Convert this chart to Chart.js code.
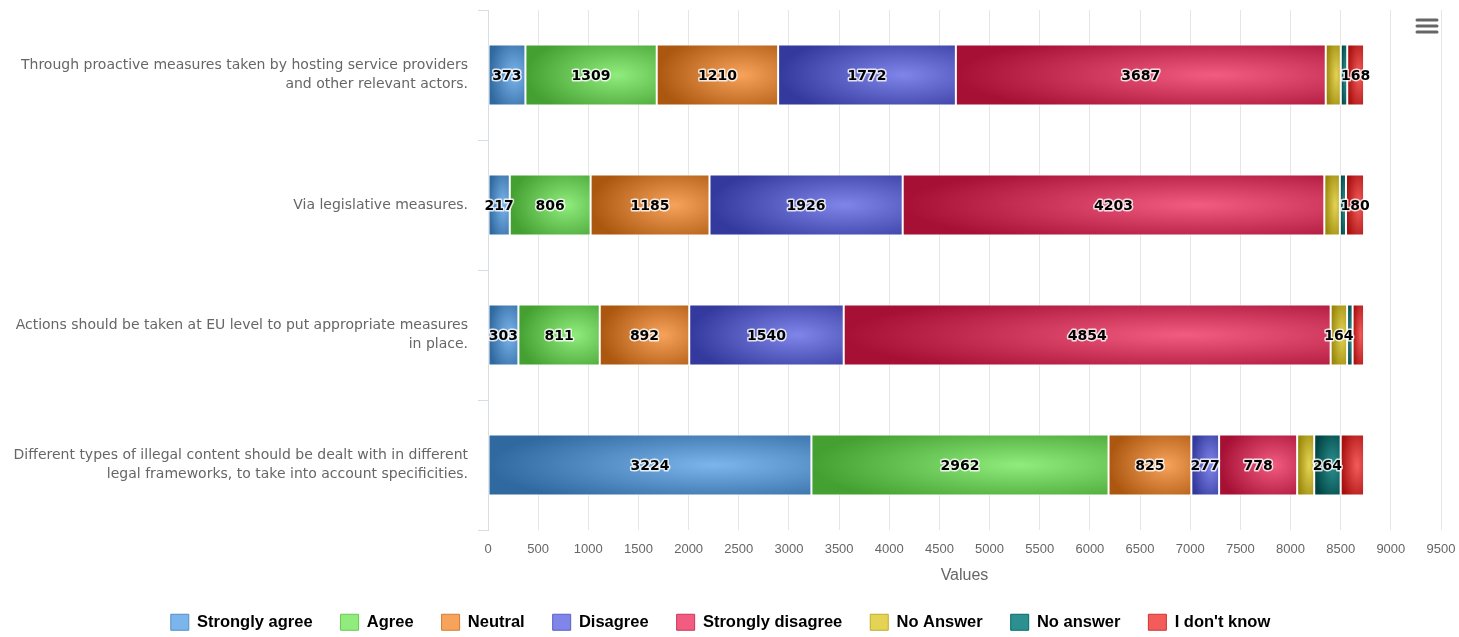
<!DOCTYPE html>
<html>
<head>
<meta charset="utf-8">
<title>Measures against illegal content</title>
<script src="https://cdn.jsdelivr.net/npm/chart.js@4.4.0/dist/chart.umd.min.js"></script>
<style>
  html, body { margin: 0; padding: 0; background: #fff; }
  #wrap { width: 1459px; height: 637px; position: relative; }
</style>
</head>
<body>
<div id="wrap"><canvas id="answersChart"></canvas></div>
<script>
// one bar per question
const categories = [
    ['Through proactive measures taken by hosting service providers', 'and other relevant actors.'],
    ['Via legislative measures.'],
    ['Actions should be taken at EU level to put appropriate measures', 'in place.'],
    ['Different types of illegal content should be dealt with in different', 'legal frameworks, to take into account specificities.']
];

const answerNames = ['Strongly agree', 'Agree', 'Neutral', 'Disagree', 'Strongly disagree', 'No Answer', 'No answer', "I don't know"];
const answerColors = ['#7cb5ec', '#90ed7d', '#f7a35c', '#8085e9', '#f15c80', '#e4d354', '#2b908f', '#f45b5b'];

// answers per question (same order as categories)
const stronglyAgree    = [373, 217, 303, 3224];
const agree            = [1309, 806, 811, 2962];
const neutral          = [1210, 1185, 892, 825];
const disagree         = [1772, 1926, 1540, 277];
const stronglyDisagree = [3687, 4203, 4854, 778];
const noAnswerUpper    = [150, 155, 164, 170];
const noAnswerLower    = [64, 61, 55, 264];
const dontKnow         = [168, 180, 114, 233];

const xTicks = [0, 500, 1000, 1500, 2000, 2500, 3000, 3500, 4000, 4500, 5000, 5500, 6000, 6500, 7000, 7500, 8000, 8500, 9000, 9500];

const seriesValues = [stronglyAgree, agree, neutral, disagree, stronglyDisagree, noAnswerUpper, noAnswerLower, dontKnow];

// darker edge colour for the bar shading
function darken(hex, amount) {
    const n = parseInt(hex.slice(1), 16);
    const d = parseInt(255 * amount);
    const r = Math.max(0, (n >> 16) - d);
    const g = Math.max(0, ((n >> 8) & 255) - d);
    const b = Math.max(0, (n & 255) - d);
    return 'rgb(' + r + ',' + g + ',' + b + ')';
}

// radial (elliptical) fill sized to one bar
function shadedFill(ctx, color, left, top, w, h) {
    const off = document.createElement('canvas');
    off.width = Math.ceil(w) + 2;
    off.height = Math.ceil(h) + 2;
    const o = off.getContext('2d');
    o.setTransform(w, 0, 0, h, 0, 0);
    const g = o.createRadialGradient(0.7, 0.5, 0, 0.7, 0.5, 0.7);
    g.addColorStop(0, color);
    g.addColorStop(1, darken(color, 0.3));
    o.fillStyle = g;
    o.fillRect(0, 0, 1.1, 1.1);
    const pat = ctx.createPattern(off, 'no-repeat');
    pat.setTransform(new DOMMatrix([1, 0, 0, 1, left, top]));
    return pat;
}

const barShading = {
    id: 'barShading',
    beforeDatasetsDraw(chart) {
        chart.data.datasets.forEach((ds, i) => {
            const meta = chart.getDatasetMeta(i);
            meta.data.forEach(bar => {
                const p = bar.getProps(['x', 'y', 'base', 'height'], true);
                const w = Math.abs(p.x - p.base);
                if (w < 1) return;
                bar.options.backgroundColor = shadedFill(chart.ctx, answerColors[i],
                    Math.min(p.x, p.base), p.y - p.height / 2, w, p.height);
            });
        });
    }
};

// value labels in the middle of each segment, bigger values win when they collide
const stackLabels = {
    id: 'stackLabels',
    afterDatasetsDraw(chart) {
        const ctx = chart.ctx;
        ctx.save();
        ctx.font = 'bold 14px "DejaVu Sans"';
        ctx.textAlign = 'center';
        ctx.textBaseline = 'middle';
        categories.forEach((c, idx) => {
            const items = [];
            chart.data.datasets.forEach((ds, i) => {
                const bar = chart.getDatasetMeta(i).data[idx];
                const p = bar.getProps(['x', 'y', 'base'], true);
                const text = String(ds.data[idx]);
                const cx = (p.x + p.base) / 2;
                const w = ctx.measureText(text).width + 6;
                items.push({ value: ds.data[idx], text: text, cx: cx, cy: p.y, left: cx - w / 2, right: cx + w / 2 });
            });
            items.sort((a, b) => b.value - a.value);
            const shown = [];
            items.forEach(it => {
                if (shown.every(s => it.right <= s.left || it.left >= s.right)) shown.push(it);
            });
            shown.forEach(it => {
                ctx.lineJoin = 'round';
                ctx.lineWidth = 3;
                ctx.strokeStyle = 'rgba(255,255,255,0.8)';
                ctx.strokeText(it.text, it.cx, it.cy + 1);
                ctx.fillStyle = '#000';
                ctx.fillText(it.text, it.cx, it.cy + 1);
            });
        });
        ctx.restore();
    }
};

// export menu button, top right
const menuIcon = {
    id: 'menuIcon',
    afterDraw(chart) {
        const ctx = chart.ctx;
        ctx.save();
        ctx.strokeStyle = '#666';
        ctx.lineWidth = 3;
        ctx.lineCap = 'round';
        [20, 26, 32].forEach(y => {
            ctx.beginPath();
            ctx.moveTo(1417, y);
            ctx.lineTo(1437, y);
            ctx.stroke();
        });
        ctx.restore();
    }
};

const datasets = answerNames.map((name, i) => ({
    label: name,
    data: seriesValues[i],
    backgroundColor: () => answerColors[i],
    borderColor: '#ffffff',
    borderWidth: 1,
    borderSkipped: false,
    barPercentage: 0.47,
    categoryPercentage: 1
}));

const chart = new Chart(document.getElementById('answersChart'), {
    type: 'bar',
    data: { labels: categories, datasets: datasets },
    options: {
        indexAxis: 'y',
        responsive: true,
        maintainAspectRatio: false,
        animation: false,
        layout: { padding: { top: 10, right: 18, left: 0, bottom: -3.5 } },
        scales: {
            x: {
                stacked: true,
                min: 0,
                max: 9500,
                afterBuildTicks: scale => { scale.ticks = xTicks.map(v => ({ value: v })); },
                afterFit: scale => {
                    scale.height = 56;
                    scale.paddingLeft = 0;
                    scale.paddingRight = 0;
                },
                grid: { color: '#e6e6e6', drawTicks: false },
                border: { display: false },
                ticks: {
                    autoSkip: false,
                    maxRotation: 0,
                    padding: 12,
                    color: '#666',
                    callback: v => String(v),
                    font: { family: '"Liberation Sans"', size: 13 }
                },
                title: {
                    display: true,
                    text: 'Values',
                    color: '#666',
                    padding: { top: 0, bottom: 1 },
                    font: { family: '"Liberation Sans"', size: 16 }
                }
            },
            y: {
                stacked: true,
                afterFit: scale => {
                    scale.width = 488;
                    scale.paddingTop = 0;
                    scale.paddingBottom = 0;
                },
                grid: { drawOnChartArea: false, tickLength: 10, color: '#d8dde6' },
                border: { color: '#d8dde6' },
                ticks: {
                    padding: 10,
                    color: '#666',
                    font: { family: '"DejaVu Sans"', size: 14, lineHeight: 1.4 }
                }
            }
        },
        plugins: {
            legend: {
                position: 'bottom',
                labels: {
                    boxWidth: 18,
                    boxHeight: 16,
                    padding: 28,
                    color: '#333',
                    font: { family: '"Liberation Sans"', size: 16.5, weight: 'bold' },
                    generateLabels: ch => ch.data.datasets.map((ds, i) => ({
                        text: ds.label,
                        fillStyle: answerColors[i],
                        strokeStyle: darken(answerColors[i], 0.15),
                        lineWidth: 1,
                        hidden: !ch.isDatasetVisible(i),
                        datasetIndex: i
                    }))
                }
            },
            tooltip: { enabled: false }
        }
    },
    plugins: [barShading, stackLabels, menuIcon]
});
</script>
</body>
</html>
